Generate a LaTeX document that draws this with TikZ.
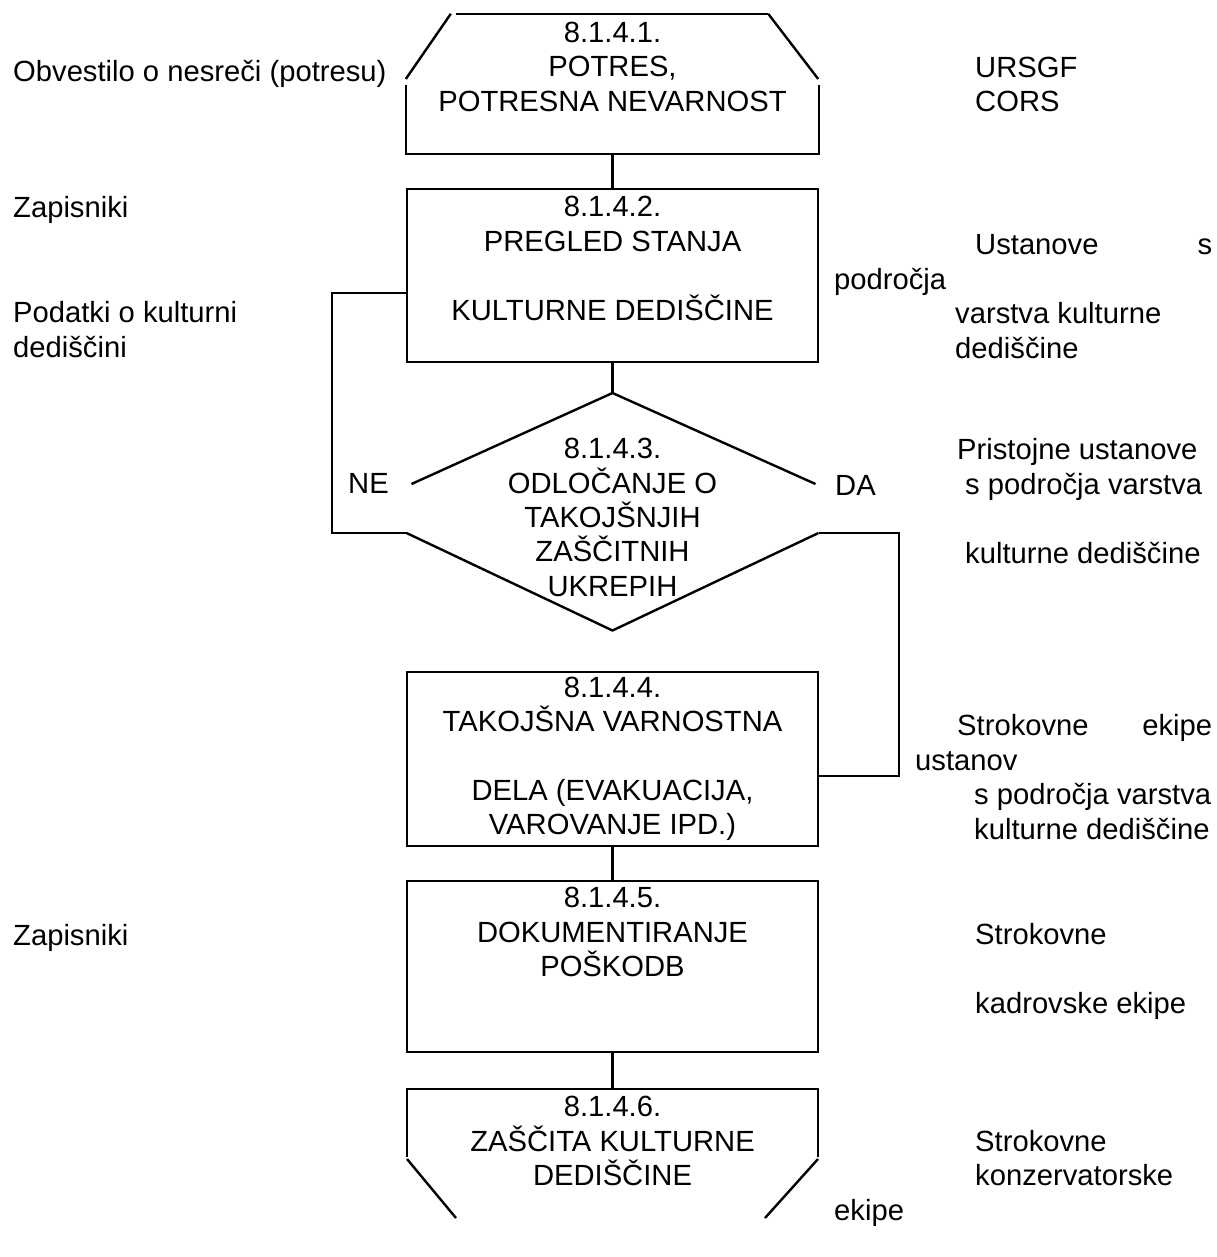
\documentclass[tikz,border=0pt]{standalone}
\usepackage{fontspec}
\setmainfont{Liberation Sans}
\usetikzlibrary{calc}
\tikzstyle{base} = [minimum width=205.5pt, inner sep=0pt, align=center, font=\fontsize{14.6}{17.2}\selectfont]
\tikzstyle{terminator} = [base, rectangle]
\tikzstyle{process} = [base, rectangle, draw]
\tikzstyle{decision} = [base]
\tikzstyle{note} = [anchor=base west, inner sep=0pt, align=left, font=\fontsize{14.6}{17.2}\selectfont]
\tikzstyle{connector} = [draw]
\tikzstyle{connector text} = [note]
\begin{document}
\begin{tikzpicture}[x=0.5pt, y=-0.5pt, line width=1.2pt]
	\useasboundingbox (0,0) rectangle (1216,1257);

	% postopek
	\node [terminator, minimum height=69pt] at (612.5, 84) (quake) {8.1.4.1.\\POTRES,\\POTRESNA NEVARNOST\\~};
	\node [process, minimum height=86.5pt] at (612.5, 275.5) (survey) {8.1.4.2.\\PREGLED STANJA\\~\\KULTURNE DEDIŠČINE\\~};
	\node [decision] at (612.5, 517.5) (decide) {8.1.4.3.\\ODLOČANJE O\\TAKOJŠNJIH\\ZAŠČITNIH\\UKREPIH};
	\node [process, minimum height=87pt] at (612.5, 759) (secure) {8.1.4.4.\\TAKOJŠNA VARNOSTNA\\~\\DELA (EVAKUACIJA,\\VAROVANJE IPD.)};
	\node [process, minimum height=85.5pt] at (612.5, 966.5) (record) {8.1.4.5.\\DOKUMENTIRANJE\\POŠKODB\\~\\~};
	\node [terminator] at (612.5, 1141) (protect) {8.1.4.6.\\ZAŠČITA KULTURNE\\DEDIŠČINE};

	\coordinate (decide top) at ($(decide.center)+(0,-124.5)$);
	\coordinate (decide no) at ($(decide.center)+(-206,15.5)$);
	\coordinate (decide yes) at ($(decide.center)+(206,15.5)$);
	\coordinate (ne loop) at (332, 533);
	\coordinate (da loop) at (899, 533);
	\coordinate (protect top) at ($(protect.center)+(0,-52)$);

	\draw ($(quake.north west)+(50,0)$) -- ($(quake.north east)+(-51,0)$);
	\draw ($(quake.north west)+(45,0)$) -- ($(quake.west)+(0,-5)$);
	\draw ($(quake.north east)+(-51,0)$) -- ($(quake.east)+(-1,-5)$);
	\draw ($(quake.west)+(0,1)$) |- (quake.south) -| ($(quake.east)+(0,1)$);

	\draw ($(decide.center)+(-201,-33.5)$) -- (decide top) -- ($(decide.center)+(203,-33.5)$);
	\draw (decide no) -- ($(decide.center)+(0,113)$) -- (decide yes);

	\draw ($(protect.center)+(-205.5,16)$) |- (protect top) -| ($(protect.center)+(205.5,16)$);
	\draw ($(protect.center)+(-205.5,18)$) -- ($(protect.center)+(-156.5,77)$);
	\draw ($(protect.center)+(205.5,18)$) -- ($(protect.center)+(152.5,77)$);

	\path [connector] (quake) -- (survey);
	\path [connector] (survey) -- (decide top);
	\path [connector] (secure) -- (record);
	\path [connector] (record) -- (protect top);
	\path [connector] (decide no) -- (ne loop) |- ($(survey.west)+(0,17.5)$);
	\path [connector] (decide yes) -- (da loop) |- ($(secure.east)+(0,17)$);

	\node [connector text] at (347, 493) (no) {NE};
	\node [connector text] at (834, 495) (yes) {DA};

	% vhodi
	\node [note] at (12, 82) (notice) {Obvestilo o nesreči (potresu)};
	\node [note] at (12, 218) (minutes) {Zapisniki};
	\node [note] at (12, 357) (heritage) {Podatki o kulturni\\dediščini};
	\node [note] at (12, 945) (damage minutes) {Zapisniki};

	% nosilci
	\node [note] at (974, 112) (ursgf) {URSGF\\CORS};
	\node [note] at (833, 358) (institutions) {\hspace*{70.5pt}\makebox[118.5pt][s]{Ustanove\hfill s}\\področja\\\hspace*{60.5pt}varstva kulturne\\\hspace*{60.5pt}dediščine};
	\node [note] at (956, 563) (competent) {Pristojne ustanove\\\hspace*{4pt}s področja varstva\\~\\\hspace*{4pt}kulturne dediščine};
	\node [note] at (914, 839) (experts) {\hspace*{21pt}\makebox[127.5pt][s]{Strokovne\hfill ekipe}\\ustanov\\\hspace*{29.5pt}s področja varstva\\\hspace*{29.5pt}kulturne dediščine};
	\node [note] at (974, 1013) (staff) {Strokovne\\~\\kadrovske ekipe};
	\node [note] at (833, 1220) (conservators) {\hspace*{70.5pt}Strokovne\\\hspace*{70.5pt}konzervatorske\\ekipe};

\end{tikzpicture}
\end{document}
